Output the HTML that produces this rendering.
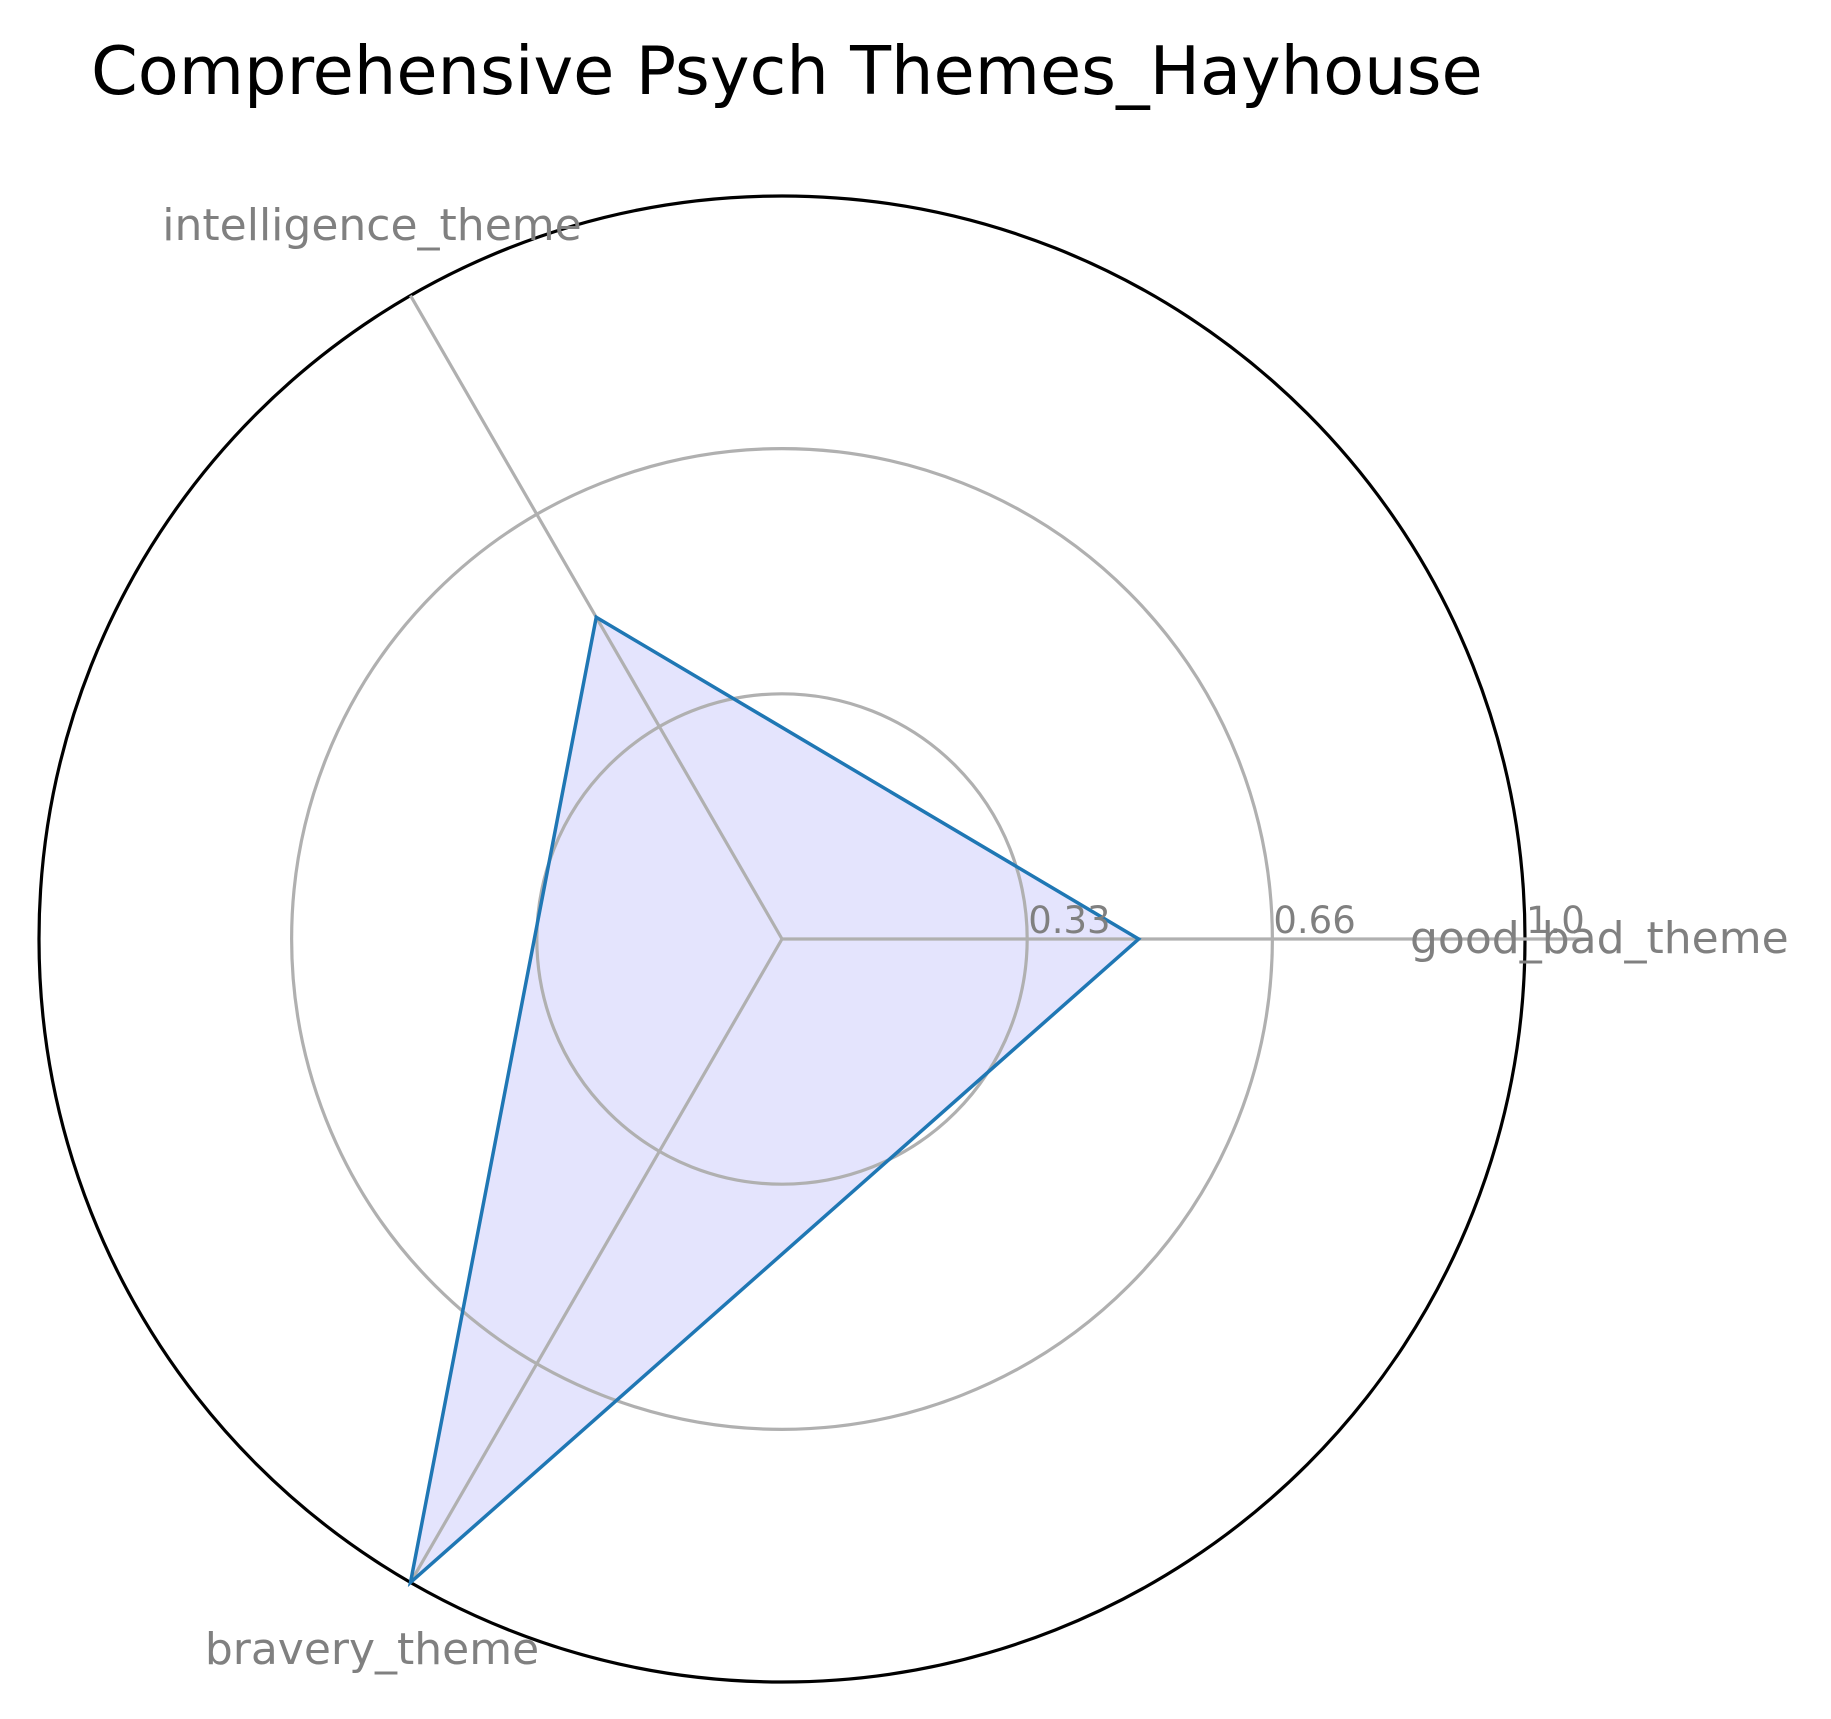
<!DOCTYPE html>
<html><head><meta charset="utf-8"><style>
html,body{margin:0;padding:0;background:#fff;}
svg{display:block;}
text{font-family:"DejaVu Sans","Liberation Sans",sans-serif;}
</style></head><body>
<svg id="chart" width="1831" height="1719" viewBox="0 0 1831 1719" xmlns="http://www.w3.org/2000/svg">
<text x="91" y="94" font-size="67" fill="#000">Comprehensive Psych Themes_Hayhouse</text>
<g id="fillg"></g>
<g id="grid"></g>
<g id="marks"></g>
<g id="labels"></g>
</svg>
<script>
const categories = ["good_bad_theme", "intelligence_theme", "bravery_theme"];
const values = [0.48, 0.5, 1.0];
const tickValues = [0.33, 0.66, 1.0];
const tickLabels = ["0.33", "0.66", "1.0"];
const rMax = 1.0;

const NS = "http://www.w3.org/2000/svg";
const cx = 782, cy = 939, R = 743;
function rScale(v){ return v / rMax * R; }
function angle(i){ return 2*Math.PI*i/categories.length; }
function pt(i, v){ const a = angle(i), r = rScale(v); return [cx + r*Math.cos(a), cy - r*Math.sin(a)]; }
function mk(tag, parent){ const e = document.createElementNS(NS, tag); parent.appendChild(e); return e; }

const fillg = document.getElementById("fillg");
const grid = document.getElementById("grid");
const marks = document.getElementById("marks");
const labels = document.getElementById("labels");

const poly = mk("polygon", fillg);


poly.setAttribute("points", values.map((v,i)=>pt(i,v).join(",")).join(" "));
poly.setAttribute("fill", "#e4e4fd");

tickValues.forEach((t, k) => {
  const c = mk("circle", grid);
  
  
  c.setAttribute("cx", cx); c.setAttribute("cy", cy); c.setAttribute("r", rScale(t));
  c.setAttribute("fill", "none");
  if (t >= rMax) { c.setAttribute("stroke", "#000"); c.setAttribute("stroke-width", "3.2"); }
  else { c.setAttribute("stroke", "#b0b0b0"); c.setAttribute("stroke-width", "3.2"); }
});

categories.forEach((cat, i) => {
  const l = mk("line", grid);
  
  
  const [x2, y2] = pt(i, i === 0 ? 1.09 : 1.0);
  l.setAttribute("x1", cx); l.setAttribute("y1", cy);
  l.setAttribute("x2", x2); l.setAttribute("y2", y2);
  l.setAttribute("stroke", "#b0b0b0"); l.setAttribute("stroke-width", "3.2");
});

const line = mk("polygon", marks);


line.setAttribute("points", values.map((v,i)=>pt(i,v).join(",")).join(" "));
line.setAttribute("fill", "none");
line.setAttribute("stroke", "#1f77b4");
line.setAttribute("stroke-width", "3.5");

tickValues.forEach((t, k) => {
  const tx = mk("text", labels);
  
  
  tx.setAttribute("x", cx + rScale(t) + 1);
  tx.setAttribute("y", cy - 6);
  tx.setAttribute("font-size", "37");
  tx.setAttribute("fill", "#808080");
  tx.textContent = tickLabels[k];
});

const labelPos = [[1410, 953, "start"], [372, 240, "middle"], [372, 1664, "middle"]];
categories.forEach((cat, i) => {
  const tx = mk("text", labels);
  
  
  tx.setAttribute("x", labelPos[i][0]);
  tx.setAttribute("y", labelPos[i][1]);
  tx.setAttribute("text-anchor", labelPos[i][2]);
  tx.setAttribute("font-size", "44");
  tx.setAttribute("fill", "#808080");
  tx.textContent = cat;
});
</script>
</body></html>
